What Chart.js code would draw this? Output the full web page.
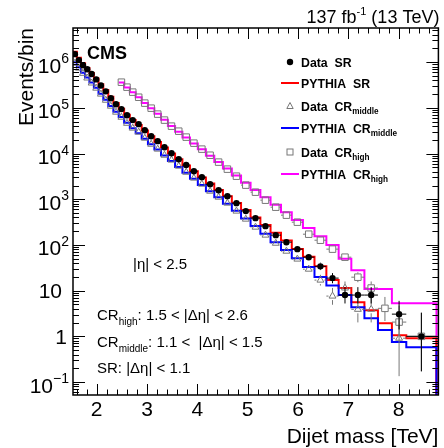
<!DOCTYPE html>
<html>
<head>
<meta charset="utf-8">
<script src="https://cdn.jsdelivr.net/npm/chart.js@4.4.1/dist/chart.umd.min.js"></script>
<style>
  html, body { margin: 0; padding: 0; background: #fff; }
  #wrap { width: 444px; height: 448px; }
</style>
</head>
<body>
<div id="wrap"><canvas id="dijetChart" width="444" height="448"></canvas></div>
<script>
// dijet mass bin edges (TeV)
const binEdges = [1.530, 1.607, 1.687, 1.770, 1.856, 1.945, 2.037, 2.132, 2.231, 2.332,
  2.438, 2.546, 2.659, 2.775, 2.895, 3.019, 3.147, 3.279, 3.416, 3.558,
  3.704, 3.854, 4.010, 4.171, 4.337, 4.509, 4.686, 4.869, 5.058, 5.253,
  5.455, 5.663, 5.877, 6.099, 6.328, 6.564, 6.808, 7.060, 7.320, 7.589,
  7.866, 8.152, 8.447, 8.752];
// data points use the same bins, last two merged
const dataEdges = [1.530, 1.607, 1.687, 1.770, 1.856, 1.945, 2.037, 2.132, 2.231, 2.332,
  2.438, 2.546, 2.659, 2.775, 2.895, 3.019, 3.147, 3.279, 3.416, 3.558,
  3.704, 3.854, 4.010, 4.171, 4.337, 4.509, 4.686, 4.869, 5.058, 5.253,
  5.455, 5.663, 5.877, 6.099, 6.328, 6.564, 6.808, 7.060, 7.320, 7.589,
  7.866, 8.152, 8.752];

const srData = [1.50e6, 1.11e6, 8.6e5, 7.0e5, 5.5e5, 4.2e5, 3.1e5, 2.3e5, 1.63e5, 1.2e5,
  9.4e4, 6.9e4, 5.4e4, 4.4e4, 3.25e4, 2.4e4, 1.87e4, 1.38e4, 1.02e4, 7.5e3,
  5.6e3, 4.1e3, 3.05e3, 2.14e3, 1.58e3, 1.17e3, 822, 550, 386, 258,
  164, 115, 81, 54, 34, 18.8, 8, 8, 8, null,
  3.06, 1.0];
const crMidData = [9.5e5, 7.4e5, 5.7e5, 4.5e5, 3.5e5, 2.7e5, 2.0e5, 1.47e5, 1.09e5, 8.05e4,
  6.25e4, 4.6e4, 3.6e4, 2.94e4, 2.17e4, 1.6e4, 1.25e4, 9.2e3, 7.2e3, 5.3e3,
  3.9e3, 2.9e3, 2.14e3, 1.5e3, 1.11e3, 822, 550, 367, 245, 164,
  109, 73, 49, 29.5, 17, 7.6, 11.4, 3.9, 3.9, null,
  0.91, null];
const crHighData = [null, null, null, null, null, null, null, null, null, null,
  3.65e5, 2.84e5, 2.21e5, 1.71e5, 1.27e5, 9.85e4, 7.3e4, 5.4e4, 3.98e4, 3.09e4,
  2.29e4, 1.69e4, 1.25e4, 9.2e3, 6.5e3, 4.56e3, 3.2e3, 2.04e3, 1.43e3, 955,
  671, 449, 315, 172, 127, 81, 54, 19.7, 11.4, 4.1,
  2.05, 1.0];

const pythiaSR = [1.7e6, 1.25e6, 9.5e5, 7.5e5, 5.8e5, 4.4e5, 3.3e5, 2.45e5, 1.75e5, 1.28e5,
  9.6e4, 7.1e4, 5.4e4, 4.2e4, 3.2e4, 2.4e4, 1.8e4, 1.35e4, 1.0e4, 7.5e3,
  5.5e3, 4.1e3, 3.0e3, 2.2e3, 1.6e3, 1.17e3, 830, 580, 400, 275,
  185, 125, 82, 55, 34, 17, 11.4, 5.6, 3.74, 1.94,
  1.06, 0.91, 0.91];
const pythiaMid = [1.0e6, 7.7e5, 5.9e5, 4.6e5, 3.6e5, 2.75e5, 2.05e5, 1.5e5, 1.1e5, 8.2e4,
  6.3e4, 4.7e4, 3.6e4, 2.8e4, 2.1e4, 1.6e4, 1.22e4, 9.1e3, 6.9e3, 5.1e3,
  3.8e3, 2.8e3, 2.05e3, 1.5e3, 1.1e3, 800, 560, 380, 260, 175,
  115, 78, 51, 33, 20, 13, 8, 4.35, 2.5, 1.37,
  0.75, 0.58, 0.58];
const pythiaHigh = [null, null, null, null, null, null, null, null, null, null,
  3.6e5, 2.8e5, 2.2e5, 1.7e5, 1.28e5, 9.8e4, 7.4e4, 5.5e4, 4.0e4, 3.0e4,
  2.25e4, 1.67e4, 1.24e4, 9.0e3, 6.5e3, 4.7e3, 3.3e3, 2.3e3, 1.6e3, 1.1e3,
  760, 520, 350, 235, 155, 100, 50, 28, 10.8, 10.8,
  5.3, 5.3, 5.3];

const xTickLabels = [2, 3, 4, 5, 6, 7, 8];
const yTickExponents = [-1, 0, 1, 2, 3, 4, 5, 6];

const X_MIN = 1.53, X_MAX = 8.79;
const Y_MIN = 0.052, Y_MAX = 5.6e6;
const FONT = '"Liberation Sans", Arial, Helvetica, sans-serif';

function histPoints(edges, vals) {
  const pts = [];
  vals.forEach((v, i) => {
    if (v == null) return;
    pts.push({ x: edges[i], y: v });
    pts.push({ x: edges[i + 1], y: v });
  });
  // ROOT closes the last bin down to the axis
  pts.push({ x: edges[edges.length - 1], y: Y_MIN / 10 });
  return pts;
}

function markerPoints(edges, vals) {
  const pts = [];
  vals.forEach((v, i) => {
    if (v == null) return;
    pts.push({ x: (edges[i] + edges[i + 1]) / 2, y: v, lo: edges[i], hi: edges[i + 1] });
  });
  return pts;
}

// Poisson (Garwood) interval, Wilson-Hilferty approximation
function poissonBand(n) {
  const lo = n <= 0 ? 0 : n * Math.pow(1 - 1 / (9 * n) - 1 / (3 * Math.sqrt(n)), 3);
  const m = n + 1;
  const hi = m * Math.pow(1 - 1 / (9 * m) + 1 / (3 * Math.sqrt(m)), 3);
  return [lo, hi];
}

const errorBars = {
  id: 'errorBars',
  beforeDatasetDraw(chart, args) {
    const ds = chart.data.datasets[args.index];
    if (!ds.errColor) return;
    const { ctx, chartArea: a, scales: { x, y } } = chart;
    const gap = ds.errGap;
    ctx.save();
    ctx.beginPath();
    ctx.rect(a.left, a.top, a.right - a.left, a.bottom - a.top);
    ctx.clip();
    ctx.strokeStyle = ds.errColor;
    ctx.lineWidth = 1;
    ctx.beginPath();
    ds.data.forEach(p => {
      const px = x.getPixelForValue(p.x), py = y.getPixelForValue(p.y);
      const xl = x.getPixelForValue(p.lo), xr = x.getPixelForValue(p.hi);
      const [nlo, nhi] = poissonBand(p.y);
      const yl = nlo > 0 ? y.getPixelForValue(nlo) : a.bottom + 5;
      const yh = y.getPixelForValue(nhi);
      if (xl < px - gap) { ctx.moveTo(xl, py); ctx.lineTo(px - gap, py); }
      if (xr > px + gap) { ctx.moveTo(px + gap, py); ctx.lineTo(xr, py); }
      if (yh < py - gap) { ctx.moveTo(px, yh); ctx.lineTo(px, py - gap); }
      if (yl > py + gap) { ctx.moveTo(px, py + gap); ctx.lineTo(px, yl); }
    });
    ctx.stroke();
    ctx.restore();
  }
};

// draws text pieces left to right; sub = -1 subscript, 1 superscript
function richText(ctx, parts, x, y, bold, size, smallSize) {
  let cx = x;
  parts.forEach(([t, sub]) => {
    const sz = sub ? smallSize : size;
    ctx.font = (bold ? 'bold ' : '') + sz + 'px ' + FONT;
    const dy = sub === -1 ? size * 0.3 : sub === 1 ? -size * 0.42 : 0;
    ctx.fillText(t, cx, y + dy);
    cx += ctx.measureText(t).width;
  });
  return cx - x;
}

function richWidth(ctx, parts, bold, size, smallSize) {
  let w = 0;
  parts.forEach(([t, sub]) => {
    ctx.font = (bold ? 'bold ' : '') + (sub ? smallSize : size) + 'px ' + FONT;
    w += ctx.measureText(t).width;
  });
  return w;
}

const frameAndText = {
  id: 'frameAndText',
  afterDraw(chart) {
    const { ctx, chartArea: a, scales: { x, y } } = chart;
    ctx.save();
    ctx.strokeStyle = '#000';
    ctx.fillStyle = '#000';
    ctx.lineWidth = 1.5;
    ctx.strokeRect(a.left, a.top, a.right - a.left, a.bottom - a.top);

    // ticks
    ctx.lineWidth = 1;
    ctx.beginPath();
    for (let v = 1.6; v < X_MAX; v += 0.2) {
      const px = Math.round(x.getPixelForValue(v)) + 0.5;
      const major = Math.abs(v - Math.round(v)) < 1e-6;
      const len = major ? 11 : 5.5;
      ctx.moveTo(px, a.bottom); ctx.lineTo(px, a.bottom - len);
      ctx.moveTo(px, a.top); ctx.lineTo(px, a.top + len);
    }
    for (let d = -2; d <= 6; d++) {
      for (let k = 1; k <= 9; k++) {
        const v = k * Math.pow(10, d);
        if (v < Y_MIN || v > Y_MAX) continue;
        const py = Math.round(y.getPixelForValue(v)) + 0.5;
        const len = k === 1 ? 12 : 6;
        ctx.moveTo(a.left, py); ctx.lineTo(a.left + len, py);
        ctx.moveTo(a.right, py); ctx.lineTo(a.right - len, py);
      }
    }
    ctx.stroke();

    // x tick labels
    ctx.textAlign = 'center';
    ctx.textBaseline = 'alphabetic';
    ctx.font = '21px ' + FONT;
    xTickLabels.forEach(v => {
      ctx.fillText(String(v), x.getPixelForValue(v), a.bottom + 21);
    });

    // y tick labels: 10^n
    yTickExponents.forEach(n => {
      const py = y.getPixelForValue(Math.pow(10, n));
      ctx.textAlign = 'right';
      if (n === 0 || n === 1) {
        ctx.font = '21px ' + FONT;
        ctx.fillText(n === 0 ? '1' : '10', n === 0 ? 67 : 62, py + 7.5);
        return;
      }
      const exp = n < 0 ? '\u2212' + (-n) : String(n);
      ctx.font = '14px ' + FONT;
      const ew = ctx.measureText(exp).width;
      ctx.textAlign = 'left';
      ctx.fillText(exp, 69 - ew, py + 1);
      ctx.textAlign = 'right';
      ctx.font = '21px ' + FONT;
      ctx.fillText('10', 69 - ew, py + 10.5);
    });

    // axis titles
    ctx.font = '21px ' + FONT;
    ctx.textAlign = 'right';
    ctx.fillText('Dijet mass [TeV]', a.right, 443);
    ctx.save();
    ctx.translate(33, a.top);
    ctx.rotate(-Math.PI / 2);
    ctx.fillText('Events/bin', 0, 0);
    ctx.restore();

    // lumi label, right aligned to the frame
    ctx.textAlign = 'left';
    const lumi = [['137 fb', 0], ['-1', 1], [' (13 TeV)', 0]];
    const lw = richWidth(ctx, lumi, false, 18, 11);
    richText(ctx, lumi, a.right + 1 - lw, 23, false, 18, 11);

    // CMS
    ctx.font = 'bold 18px ' + FONT;
    ctx.fillText('CMS', 87, 59);

    // region texts
    ctx.font = '15px ' + FONT;
    ctx.fillText('|\u03b7| < 2.5', 133, 269);
    richText(ctx, [['CR', 0], ['high', -1], [': 1.5 < |\u0394\u03b7| < 2.6', 0]], 97, 320, false, 15, 10);
    richText(ctx, [['CR', 0], ['middle', -1], [': 1.1 <  |\u0394\u03b7| < 1.5', 0]], 97, 347, false, 15, 10);
    richText(ctx, [['SR: |\u0394\u03b7| < 1.1', 0]], 97, 373, false, 15, 10);

    // legend
    const rows = [
      { kind: 'dot', parts: [['Data  SR', 0]], y: 62 },
      { kind: 'line', color: '#ff0000', parts: [['PYTHIA  SR', 0]], y: 83 },
      { kind: 'tri', parts: [['Data  CR', 0], ['middle', -1]], y: 106 },
      { kind: 'line', color: '#0000ff', parts: [['PYTHIA  CR', 0], ['middle', -1]], y: 128 },
      { kind: 'sq', parts: [['Data  CR', 0], ['high', -1]], y: 152 },
      { kind: 'line', color: '#ff00ff', parts: [['PYTHIA  CR', 0], ['high', -1]], y: 174 }
    ];
    rows.forEach(r => {
      const mx = 290;
      ctx.lineWidth = 1;
      if (r.kind === 'dot') {
        ctx.beginPath(); ctx.arc(mx, r.y, 3.2, 0, Math.PI * 2); ctx.fill();
      } else if (r.kind === 'line') {
        ctx.strokeStyle = r.color; ctx.lineWidth = 2;
        ctx.beginPath(); ctx.moveTo(281, r.y); ctx.lineTo(299, r.y); ctx.stroke();
      } else if (r.kind === 'tri') {
        ctx.strokeStyle = '#777';
        ctx.beginPath(); ctx.moveTo(mx, r.y - 3.5); ctx.lineTo(mx + 3.2, r.y + 2.5); ctx.lineTo(mx - 3.2, r.y + 2.5); ctx.closePath(); ctx.stroke();
      } else {
        ctx.strokeStyle = '#777';
        ctx.strokeRect(mx - 3, r.y - 3, 6, 6);
      }
      ctx.fillStyle = '#000';
      richText(ctx, r.parts, 301, r.y + 4.5, true, 12.3, 8.2);
    });
    ctx.restore();
  }
};

const ctx = document.getElementById('dijetChart').getContext('2d');
new Chart(ctx, {
  type: 'line',
  data: {
    datasets: [
      {
        label: 'Data SR', data: markerPoints(dataEdges, srData), showLine: false,
        pointStyle: 'circle', pointRadius: 3.2, pointBackgroundColor: '#000', pointBorderWidth: 0,
        errColor: '#000', errGap: 3
      },
      {
        label: 'Data CR middle', data: markerPoints(dataEdges, crMidData), showLine: false,
        pointStyle: 'triangle', pointRadius: 4, pointBackgroundColor: 'rgba(0,0,0,0)',
        pointBorderColor: '#777', pointBorderWidth: 1, errColor: '#777', errGap: 4
      },
      {
        label: 'Data CR high', data: markerPoints(dataEdges, crHighData), showLine: false,
        pointStyle: 'rect', pointRadius: 4.6, pointBackgroundColor: 'rgba(0,0,0,0)',
        pointBorderColor: '#777', pointBorderWidth: 1, errColor: '#777', errGap: 3.5
      },
      {
        label: 'PYTHIA CR middle', data: histPoints(binEdges, pythiaMid),
        borderColor: '#0000ff', borderWidth: 2, pointRadius: 0, fill: false, tension: 0
      },
      {
        label: 'PYTHIA SR', data: histPoints(binEdges, pythiaSR),
        borderColor: '#ff0000', borderWidth: 2, pointRadius: 0, fill: false, tension: 0
      },
      {
        label: 'PYTHIA CR high', data: histPoints(binEdges, pythiaHigh),
        borderColor: '#ff00ff', borderWidth: 2, pointRadius: 0, fill: false, tension: 0
      }
    ]
  },
  options: {
    responsive: false,
    animation: false,
    devicePixelRatio: 1,
    layout: { padding: { left: 73, top: 28, right: 2, bottom: 53 } },
    scales: {
      x: { type: 'linear', min: X_MIN, max: X_MAX, display: false },
      y: { type: 'logarithmic', min: Y_MIN, max: Y_MAX, display: false }
    },
    plugins: { legend: { display: false }, tooltip: { enabled: false } }
  },
  plugins: [errorBars, frameAndText]
});
</script>
</body>
</html>
